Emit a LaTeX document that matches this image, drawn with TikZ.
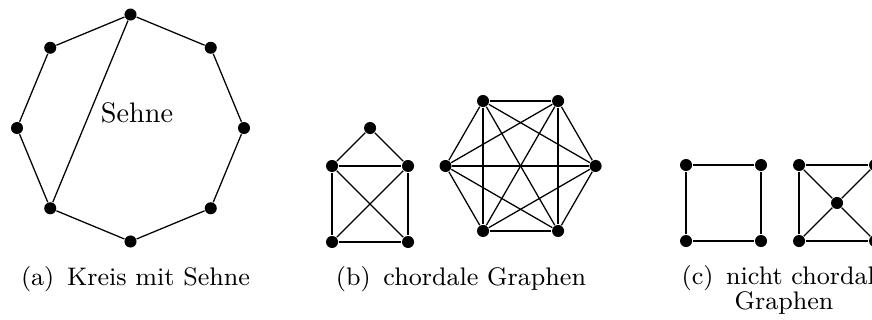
\documentclass[tikz,border=0pt]{standalone}
\usetikzlibrary{calc}
\tikzset{
  every picture/.style={line width=0.45pt},
  vertex/.style={circle, fill=black, inner sep=0pt, minimum size=1.5mm},
  subcap/.style={font=\small, anchor=base, align=center},
}

\begin{document}
\begin{tikzpicture}
  \useasboundingbox (0,0) rectangle (10.865,3.987);
  % (a) Kreis mit Sehne
  \foreach \i in {0,...,7}
    \node[vertex] (k\i) at ($(1.626,2.392)+(90+45*\i:1.414)$) {};
  \foreach \i [evaluate=\i as \j using {int(mod(\i+1,8))}] in {0,...,7}
    \draw (k\i) -- (k\j);
  \draw (k0) -- (k3);
  \node (sehne) at (1.707,2.586) {Sehne};
  \node[subcap] (capa) at (1.688,0.436) {(a)\enspace Kreis mit Sehne};
  % (b) chordale Graphen
  \node[vertex] (h1) at (4.611,2.392) {};
  \node[vertex] (h2) at (4.137,1.919) {};
  \node[vertex] (h3) at (5.084,1.919) {};
  \node[vertex] (h4) at (4.137,0.972) {};
  \node[vertex] (h5) at (5.084,0.972) {};
  \draw (h1) -- (h2); \draw (h1) -- (h3); \draw (h2) -- (h3); \draw (h2) -- (h4);
  \draw (h3) -- (h5); \draw (h4) -- (h5); \draw (h2) -- (h5); \draw (h3) -- (h4);
  \foreach \i in {0,...,5}
    \node[vertex] (s\i) at ($(6.486,1.919)+(60*\i:0.935)$) {};
  \foreach \i in {0,...,5}
    \foreach \j in {0,...,5}
      {\ifnum\i<\j \draw (s\i) -- (s\j); \fi}
  \node[subcap] (capb) at (5.744,0.436) {(b)\enspace chordale Graphen};
  % (c) nicht chordale Graphen
  \node[vertex] (q1) at (8.548,1.931) {};
  \node[vertex] (q2) at (9.482,1.931) {};
  \node[vertex] (q3) at (8.548,0.984) {};
  \node[vertex] (q4) at (9.482,0.984) {};
  \draw (q1) -- (q2) -- (q4) -- (q3) -- (q1);
  \node[vertex] (r1) at (9.956,1.931) {};
  \node[vertex] (r2) at (10.903,1.931) {};
  \node[vertex] (r3) at (9.956,0.984) {};
  \node[vertex] (r4) at (10.903,0.984) {};
  \node[vertex] (rc) at (10.429,1.458) {};
  \draw (r1) -- (r2) -- (r4) -- (r3) -- (r1);
  \draw (r1) -- (rc); \draw (r2) -- (rc); \draw (r3) -- (rc); \draw (r4) -- (rc);
  \node[subcap] (capc) at (9.769,0.125) {(c)\enspace nicht chordale\\[-2pt]Graphen};
\end{tikzpicture}
\end{document}
